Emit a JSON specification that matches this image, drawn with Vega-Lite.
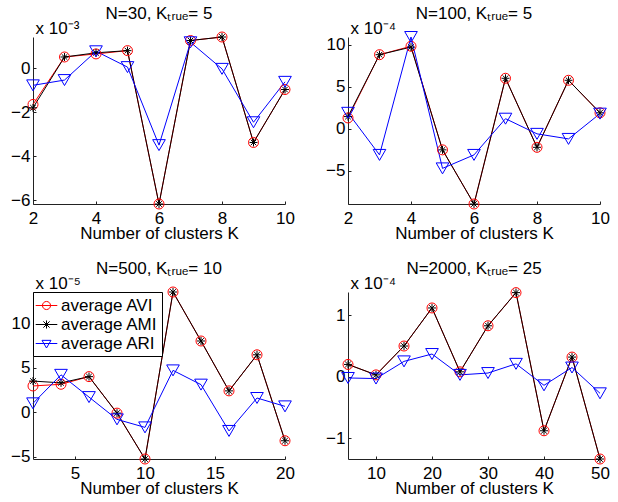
{
  "$schema": "https://vega.github.io/schema/vega-lite/v6.json",
  "background": "white",
  "padding": {"left": 10, "top": 5, "right": 5, "bottom": 5},
  "config": {
    "font": "Liberation Sans",
    "view": {"stroke": null},
    "axis": {"labelFontSize": 17, "titleFontSize": 17, "titleFontWeight": "normal", "labelColor": "black", "titleColor": "black", "domainColor": "#222222", "tickColor": "#222222", "grid": false, "tickSize": -3, "labelFlush": false, "labelOverlap": false},
    "axisX": {"labelPadding": 9, "titleY": 34, "titleBaseline": "alphabetic"},
    "axisY": {"labelPadding": 6, "titleAngle": 0, "titleX": 2, "titleY": -4, "titleAlign": "left", "titleBaseline": "alphabetic"},
    "title": {"fontSize": 17, "fontWeight": "normal", "color": "black", "frame": "group", "anchor": "middle", "offset": -4, "baseline": "alphabetic"}
  },
  "datasets": {
    "p1": [
      {"K": 2, "AVI": -1.65, "AMI": -1.8, "ARI": -0.78},
      {"K": 3, "AVI": 0.51, "AMI": 0.51, "ARI": -0.54},
      {"K": 4, "AVI": 0.65, "AMI": 0.7, "ARI": 0.77},
      {"K": 5, "AVI": 0.8, "AMI": 0.8, "ARI": 0.05},
      {"K": 6, "AVI": -6.18, "AMI": -6.18, "ARI": -3.5},
      {"K": 7, "AVI": 1.26, "AMI": 1.26, "ARI": 1.18},
      {"K": 8, "AVI": 1.42, "AMI": 1.42, "ARI": -0.03},
      {"K": 9, "AVI": -3.38, "AMI": -3.38, "ARI": -2.46},
      {"K": 10, "AVI": -0.97, "AMI": -0.97, "ARI": -0.62}
    ],
    "p2": [
      {"K": 2, "AVI": 1.29, "AMI": 1.45, "ARI": 1.9},
      {"K": 3, "AVI": 8.8, "AMI": 8.8, "ARI": -3.1},
      {"K": 4, "AVI": 9.8, "AMI": 9.7, "ARI": 10.9},
      {"K": 5, "AVI": -2.5, "AMI": -2.5, "ARI": -4.7},
      {"K": 6, "AVI": -8.93, "AMI": -8.93, "ARI": -3.1},
      {"K": 7, "AVI": 6.0, "AMI": 6.0, "ARI": 1.2},
      {"K": 8, "AVI": -2.2, "AMI": -2.2, "ARI": -0.6},
      {"K": 9, "AVI": 5.76, "AMI": 5.76, "ARI": -1.2},
      {"K": 10, "AVI": 1.9, "AMI": 1.9, "ARI": 1.8}
    ],
    "p3": [
      {"K": 2, "AVI": 2.95, "AMI": 3.5, "ARI": 1.0},
      {"K": 4, "AVI": 3.14, "AMI": 3.3, "ARI": 4.2},
      {"K": 6, "AVI": 4.0, "AMI": 4.0, "ARI": 1.7},
      {"K": 8, "AVI": -0.1, "AMI": -0.1, "ARI": -0.8},
      {"K": 10, "AVI": -5.25, "AMI": -5.25, "ARI": -1.7},
      {"K": 12, "AVI": 13.5, "AMI": 13.5, "ARI": 4.7},
      {"K": 14, "AVI": 8.0, "AMI": 8.0, "ARI": 3.1},
      {"K": 16, "AVI": 2.4, "AMI": 2.4, "ARI": -2.1},
      {"K": 18, "AVI": 6.45, "AMI": 6.45, "ARI": 1.6},
      {"K": 20, "AVI": -3.2, "AMI": -3.2, "ARI": 0.66}
    ],
    "p4": [
      {"K": 5, "AVI": 0.2, "AMI": 0.2, "ARI": -0.02},
      {"K": 10, "AVI": 0.03, "AMI": 0.03, "ARI": -0.03},
      {"K": 15, "AVI": 0.5, "AMI": 0.5, "ARI": 0.25},
      {"K": 20, "AVI": 1.12, "AMI": 1.12, "ARI": 0.37},
      {"K": 25, "AVI": 0.08, "AMI": 0.08, "ARI": 0.03},
      {"K": 30, "AVI": 0.83, "AMI": 0.83, "ARI": 0.06},
      {"K": 35, "AVI": 1.37, "AMI": 1.37, "ARI": 0.21},
      {"K": 40, "AVI": -0.88, "AMI": -0.88, "ARI": -0.14},
      {"K": 45, "AVI": 0.32, "AMI": 0.32, "ARI": 0.15},
      {"K": 50, "AVI": -1.34, "AMI": -1.34, "ARI": -0.27}
    ]
  },
  "columns": 2,
  "bounds": "flush",
  "spacing": {"row": 88, "column": 63},
  "resolve": {
    "scale": {"x": "independent", "y": "independent", "color": "independent"},
    "axis": {"x": "independent", "y": "independent"},
    "legend": {"color": "independent"}
  },
  "concat": [
    {
      "width": 252, "height": 167,
      "data": {"name": "p1"},
      "transform": [{"fold": ["AVI", "AMI", "ARI"], "as": ["s", "v"]}],
      "title": {"text": "N=30, Kₜᵣᵤₑ= 5"},
      "encoding": {
        "x": {"field": "K", "type": "quantitative", "scale": {"domain": [2, 10], "nice": false, "zero": false}, "axis": {"values": [2, 4, 6, 8, 10], "title": "Number of clusters K"}},
        "y": {"field": "v", "type": "quantitative", "scale": {"domain": [-6.18, 1.42], "nice": false, "zero": false}, "axis": {"values": [-6, -4, -2, 0], "title": "x 10⁻³"}},
        "color": {"field": "s", "type": "nominal", "scale": {"domain": ["AVI", "AMI", "ARI"], "range": ["#ff0000", "#000000", "#0000ff"]}, "legend": null}
      },
      "layer": [
        {"mark": {"type": "line", "strokeWidth": 1, "clip": false}, "encoding": {}},
        {"transform": [{"filter": "datum.s === 'AVI'"}], "mark": {"type": "point", "shape": "circle", "size": 100, "filled": false, "strokeWidth": 1, "opacity": 1, "clip": false}},
        {"transform": [{"filter": "datum.s === 'AMI'"}], "mark": {"type": "point", "shape": "M-1,0H1M0,-1V1M-0.7,-0.7L0.7,0.7M-0.7,0.7L0.7,-0.7", "size": 64, "filled": false, "strokeWidth": 1, "opacity": 1, "clip": false}},
        {"transform": [{"filter": "datum.s === 'ARI'"}], "mark": {"type": "point", "shape": "triangle-down", "size": 160, "filled": false, "strokeWidth": 1, "opacity": 1, "clip": false}}
      ]
    },
    {
      "width": 252, "height": 167,
      "data": {"name": "p2"},
      "transform": [{"fold": ["AVI", "AMI", "ARI"], "as": ["s", "v"]}],
      "title": {"text": "N=100, Kₜᵣᵤₑ= 5"},
      "encoding": {
        "x": {"field": "K", "type": "quantitative", "scale": {"domain": [2, 10], "nice": false, "zero": false}, "axis": {"values": [2, 4, 6, 8, 10], "title": "Number of clusters K"}},
        "y": {"field": "v", "type": "quantitative", "scale": {"domain": [-8.93, 10.9], "nice": false, "zero": false}, "axis": {"values": [-5, 0, 5, 10], "title": "x 10⁻⁴"}},
        "color": {"field": "s", "type": "nominal", "scale": {"domain": ["AVI", "AMI", "ARI"], "range": ["#ff0000", "#000000", "#0000ff"]}, "legend": null}
      },
      "layer": [
        {"mark": {"type": "line", "strokeWidth": 1, "clip": false}, "encoding": {}},
        {"transform": [{"filter": "datum.s === 'AVI'"}], "mark": {"type": "point", "shape": "circle", "size": 100, "filled": false, "strokeWidth": 1, "opacity": 1, "clip": false}},
        {"transform": [{"filter": "datum.s === 'AMI'"}], "mark": {"type": "point", "shape": "M-1,0H1M0,-1V1M-0.7,-0.7L0.7,0.7M-0.7,0.7L0.7,-0.7", "size": 64, "filled": false, "strokeWidth": 1, "opacity": 1, "clip": false}},
        {"transform": [{"filter": "datum.s === 'ARI'"}], "mark": {"type": "point", "shape": "triangle-down", "size": 160, "filled": false, "strokeWidth": 1, "opacity": 1, "clip": false}}
      ]
    },
    {
      "width": 252, "height": 167,
      "data": {"name": "p3"},
      "transform": [{"fold": ["AVI", "AMI", "ARI"], "as": ["s", "v"]}],
      "title": {"text": "N=500, Kₜᵣᵤₑ= 10"},
      "encoding": {
        "x": {"field": "K", "type": "quantitative", "scale": {"domain": [2, 20], "nice": false, "zero": false}, "axis": {"values": [5, 10, 15, 20], "title": "Number of clusters K"}},
        "y": {"field": "v", "type": "quantitative", "scale": {"domain": [-5.25, 13.5], "nice": false, "zero": false}, "axis": {"values": [-5, 0, 5, 10], "title": "x 10⁻⁵"}},
        "color": {"field": "s", "type": "nominal", "scale": {"domain": ["AVI", "AMI", "ARI"], "range": ["#ff0000", "#000000", "#0000ff"]},
          "legend": {
            "orient": "top-left", "offset": 0, "title": null, "padding": 4,
            "strokeColor": "black", "fillColor": "white",
            "symbolSize": 324, "symbolStrokeWidth": 1, "labelFontSize": 17, "labelColor": "black", "labelOffset": 5, "rowPadding": 1,
            "labelExpr": "'average ' + datum.label",
            "encoding": {"symbols": {
              "shape": {"value": {"expr": "datum.value === 'AVI' ? 'M-1.2,0H1.2M-0.45,0A0.45,0.45,0,1,1,0.45,0A0.45,0.45,0,1,1,-0.45,0' : datum.value === 'AMI' ? 'M-1.2,0H1.2M0,-0.45V0.45M-0.35,-0.35L0.35,0.35M-0.35,0.35L0.35,-0.35' : 'M-1.2,0H1.2M-0.5,-0.35H0.5L0,0.5Z'"}},
              "fill": {"value": "transparent"},
              "size": {"value": 324},
              "opacity": {"value": 1}
            }}
          }}
      },
      "layer": [
        {"mark": {"type": "line", "strokeWidth": 1, "clip": false}, "encoding": {}},
        {"transform": [{"filter": "datum.s === 'AVI'"}], "mark": {"type": "point", "shape": "circle", "size": 100, "filled": false, "strokeWidth": 1, "opacity": 1, "clip": false}},
        {"transform": [{"filter": "datum.s === 'AMI'"}], "mark": {"type": "point", "shape": "M-1,0H1M0,-1V1M-0.7,-0.7L0.7,0.7M-0.7,0.7L0.7,-0.7", "size": 64, "filled": false, "strokeWidth": 1, "opacity": 1, "clip": false}},
        {"transform": [{"filter": "datum.s === 'ARI'"}], "mark": {"type": "point", "shape": "triangle-down", "size": 160, "filled": false, "strokeWidth": 1, "opacity": 1, "clip": false}}
      ]
    },
    {
      "width": 252, "height": 167,
      "data": {"name": "p4"},
      "transform": [{"fold": ["AVI", "AMI", "ARI"], "as": ["s", "v"]}],
      "title": {"text": "N=2000, Kₜᵣᵤₑ= 25"},
      "encoding": {
        "x": {"field": "K", "type": "quantitative", "scale": {"domain": [5, 50], "nice": false, "zero": false}, "axis": {"values": [10, 20, 30, 40, 50], "title": "Number of clusters K"}},
        "y": {"field": "v", "type": "quantitative", "scale": {"domain": [-1.34, 1.38], "nice": false, "zero": false}, "axis": {"values": [-1, 0, 1], "title": "x 10⁻⁴"}},
        "color": {"field": "s", "type": "nominal", "scale": {"domain": ["AVI", "AMI", "ARI"], "range": ["#ff0000", "#000000", "#0000ff"]}, "legend": null}
      },
      "layer": [
        {"mark": {"type": "line", "strokeWidth": 1, "clip": false}, "encoding": {}},
        {"transform": [{"filter": "datum.s === 'AVI'"}], "mark": {"type": "point", "shape": "circle", "size": 100, "filled": false, "strokeWidth": 1, "opacity": 1, "clip": false}},
        {"transform": [{"filter": "datum.s === 'AMI'"}], "mark": {"type": "point", "shape": "M-1,0H1M0,-1V1M-0.7,-0.7L0.7,0.7M-0.7,0.7L0.7,-0.7", "size": 64, "filled": false, "strokeWidth": 1, "opacity": 1, "clip": false}},
        {"transform": [{"filter": "datum.s === 'ARI'"}], "mark": {"type": "point", "shape": "triangle-down", "size": 160, "filled": false, "strokeWidth": 1, "opacity": 1, "clip": false}}
      ]
    }
  ]
}
